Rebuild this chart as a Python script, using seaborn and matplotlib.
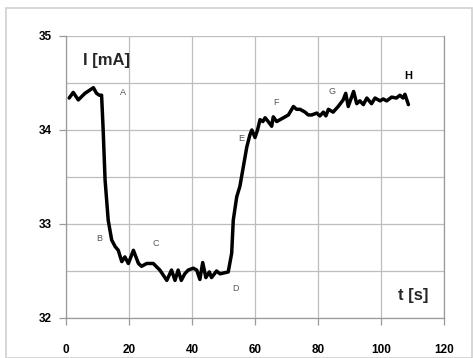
import matplotlib
matplotlib.use("Agg")
import matplotlib.pyplot as plt
import seaborn as sns
import pandas as pd
from matplotlib.patches import Rectangle

t_s = [1.0, 2.3, 3.9, 6.0, 8.7, 9.7, 10.6, 11.3,
       11.8, 12.4, 13.4, 14.5, 15.6, 16.6, 17.7, 18.7, 19.8,
       21.4, 23.0, 24.0, 25.6, 27.7, 29.8,
       32.0, 33.5, 34.6, 35.6, 36.6, 37.7, 38.8,
       40.4, 41.5, 42.5, 43.4, 44.4, 45.5, 46.2, 47.8, 48.9,
       51.5, 52.6, 53.1, 54.2, 55.2, 56.3, 57.4, 58.4, 59.0,
       60.0, 60.8, 61.6, 62.5, 63.2, 64.2, 65.3, 65.8, 66.9, 68.5,
       70.6, 72.2, 73.2, 74.3, 75.9, 76.9, 78.0, 79.6,
       80.6, 81.7, 82.5, 83.3, 84.8, 86.4, 88.0, 88.8, 89.6,
       91.3, 92.3, 93.3, 94.4, 95.5, 97.0, 98.1, 99.7,
       100.7, 101.8, 103.4, 104.9, 106.0, 107.0, 107.6, 108.7]
current_mA = [34.34, 34.40, 34.32, 34.39, 34.45, 34.39, 34.37, 34.37,
              34.00, 33.47, 33.04, 32.83, 32.76, 32.72, 32.60, 32.65, 32.58,
              32.72, 32.58, 32.55, 32.58, 32.58, 32.51,
              32.40, 32.51, 32.40, 32.51, 32.40, 32.47, 32.51,
              32.53, 32.51, 32.41, 32.59, 32.43, 32.49, 32.43, 32.50, 32.47,
              32.49, 32.69, 33.04, 33.29, 33.40, 33.61, 33.82, 33.95, 34.00,
              33.92, 34.00, 34.11, 34.09, 34.13, 34.09, 34.04, 34.14, 34.09, 34.12,
              34.16, 34.25, 34.22, 34.22, 34.19, 34.16, 34.16, 34.18,
              34.15, 34.19, 34.15, 34.22, 34.19, 34.25, 34.32, 34.39, 34.25,
              34.41, 34.28, 34.31, 34.27, 34.34, 34.28, 34.34, 34.31,
              34.33, 34.31, 34.35, 34.34, 34.37, 34.34, 34.38, 34.27]

point_labels = ["A", "B", "C", "D", "E", "F", "G"]
point_x = [18.1, 10.6, 28.5, 53.7, 55.5, 66.7, 84.5]
point_y = [34.40, 32.85, 32.79, 32.31, 33.91, 34.29, 34.41]

x_ticks = [0, 20, 40, 60, 80, 100, 120]
y_ticks = [32, 33, 34, 35]

sns.set_theme(style="white")
plt.rcParams['font.family'] = ['Liberation Sans', 'DejaVu Sans']

fig = plt.figure(figsize=(4.73, 3.58), dpi=100)
fig.patch.set_facecolor("white")
fig.patches.append(Rectangle((6/473, 0), (466)/473, 1 - 8/358, transform=fig.transFigure,
                             fill=False, edgecolor="#d0d0d0", linewidth=1.2))
ax = fig.add_axes([66/473, 1 - 318/358, (444 - 66)/473, (318 - 36)/358])

df = pd.DataFrame({"t": t_s, "I": current_mA})
sns.lineplot(data=df, x="t", y="I", ax=ax, color="black", linewidth=2.5,
             estimator=None, sort=False)

ax.set_xlim(0, 120)
ax.set_ylim(32, 35)
ax.set_xticks(x_ticks)
ax.set_yticks(y_ticks)
ax.set_yticks([32.5, 33.5, 34.5], minor=True)
ax.set_xticklabels([str(v) for v in x_ticks], fontweight="bold", fontsize=8.5)
ax.set_yticklabels([str(v) for v in y_ticks], fontweight="bold", fontsize=8.5)
ax.grid(True, which="both", color="#bdbdbd", linewidth=0.9)
ax.tick_params(axis="both", which="major", length=5, width=0.9, color="#9a9a9a",
               direction="out", left=True, bottom=True, colors="black")
ax.tick_params(axis="x", pad=14)
ax.tick_params(axis="y", pad=5)
ax.tick_params(which="minor", length=0)
for side in ["left", "bottom", "right", "top"]:
    ax.spines[side].set_color("#9a9a9a")
    ax.spines[side].set_linewidth(0.9)
ax.spines["top"].set_visible(False)
ax.set_xlabel("")
ax.set_ylabel("")

for lab, x, y in zip(point_labels, point_x, point_y):
    ax.text(x, y, lab, fontsize=6.5, color="#555555", ha="center", va="center")
ax.text(108.7, 34.57, "H", fontsize=8, fontweight="bold", color="black",
        ha="center", va="center")
ax.text(5.3, 34.74, "I [mA]", fontsize=12, fontweight="bold", ha="left", va="center")
ax.text(115, 32.24, "t [s]", fontsize=12, fontweight="bold", ha="right", va="center")

fig.savefig("out.png", dpi=100, facecolor="white")
